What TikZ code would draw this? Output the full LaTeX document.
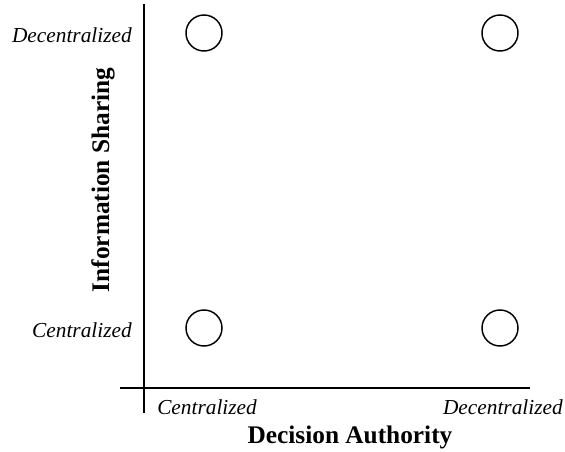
\documentclass[tikz,border=0pt]{standalone}
\usepackage{fontspec}
\setmainfont{Liberation Serif}
\begin{document}
\begin{tikzpicture}[x=0.75pt,y=-0.75pt,
  axis/.style={line width=1.5pt},
  cell/.style={circle,draw,line width=1.1pt,minimum size=27pt,inner sep=0pt},
  ticklabel/.style={font=\fontsize{16}{19}\selectfont\itshape,inner sep=0pt},
  axislabel/.style={font=\fontsize{19}{23}\selectfont\bfseries,inner sep=0pt}]
\useasboundingbox (0,0) rectangle (565,452);
% axes
\coordinate (ytop) at (144,4);
\coordinate (ybot) at (144,413);
\coordinate (xleft) at (120,388);
\coordinate (xright) at (530,388);
\draw[axis] (ytop) -- (ybot);
\draw[axis] (xleft) -- (xright);
% circles
\node[cell] (c1) at (204,33) {};
\node[cell] (c2) at (500,33) {};
\node[cell] (c3) at (204,328) {};
\node[cell] (c4) at (500,328) {};
% y tick labels
\node[ticklabel,anchor=east] (yd) at (132,35) {Decentralized};
\node[ticklabel,anchor=east] (yc) at (132,330) {Centralized};
% x tick labels
\node[ticklabel,anchor=west] (xc) at (157,407) {Centralized};
\node[ticklabel,anchor=east] (xd) at (563,407) {Decentralized};
% axis titles
\node[axislabel] (xt) at (350,437) {Decision Authority};
\node[axislabel,rotate=90] (yt) at (103,180) {Information Sharing};
\end{tikzpicture}
\end{document}
